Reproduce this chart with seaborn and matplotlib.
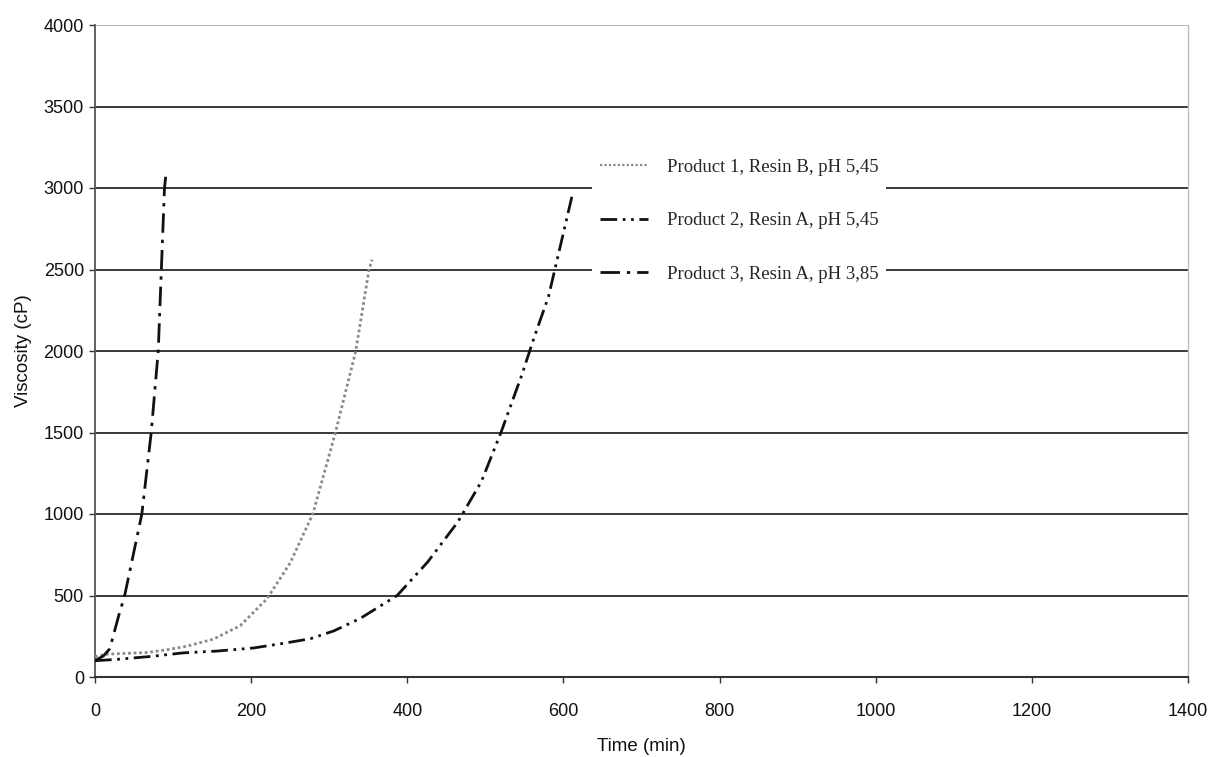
import numpy as np
import pandas as pd
import matplotlib
matplotlib.use("Agg")
import matplotlib.pyplot as plt
import seaborn as sns

# ---- data ----
labels = ["Product 1, Resin B, pH 5,45",
          "Product 2, Resin A, pH 5,45",
          "Product 3, Resin A, pH 3,85"]

t1 = [0, 15, 40, 66, 92, 118, 152, 186, 220, 250, 279, 308, 334, 351, 355]
v1 = [125, 140, 145, 150, 167, 189, 233, 315, 478, 700, 1000, 1500, 2000, 2500, 2560]

t2 = [0, 28, 71, 113, 156, 203, 242, 276, 306, 340, 387, 426, 465, 495, 520, 546, 563, 581, 589, 602, 611]
v2 = [100, 108, 126, 148, 159, 178, 207, 235, 283, 360, 500, 705, 953, 1200, 1500, 1844, 2090, 2336, 2500, 2766, 2950]

t3 = [0, 11, 19, 30, 38, 60, 72, 81, 85, 89, 91]
v3 = [100, 130, 174, 370, 500, 1000, 1500, 2000, 2500, 3000, 3090]

x_ticks = [0, 200, 400, 600, 800, 1000, 1200, 1400]
y_ticks = [0, 500, 1000, 1500, 2000, 2500, 3000, 3500, 4000]

df = pd.concat([
    pd.DataFrame({"Time (min)": t1, "Viscosity (cP)": v1, "series": labels[0]}),
    pd.DataFrame({"Time (min)": t2, "Viscosity (cP)": v2, "series": labels[1]}),
    pd.DataFrame({"Time (min)": t3, "Viscosity (cP)": v3, "series": labels[2]}),
], ignore_index=True)

sns.set_style("white")
plt.rcParams["font.family"] = ["Liberation Sans", "DejaVu Sans"]

fig = plt.figure(figsize=(12.13, 7.57), dpi=100)
ax = fig.add_axes([95 / 1213, 1 - 677 / 757, (1188 - 95) / 1213, (677 - 25) / 757])

palette = {labels[0]: "#8a8a8a", labels[1]: "#111111", labels[2]: "#111111"}
dashes = {labels[0]: (1, 1), labels[1]: (6, 2, 1, 2, 1, 2), labels[2]: (7, 2.5, 1.2, 2.5)}

sns.lineplot(data=df, x="Time (min)", y="Viscosity (cP)", hue="series", style="series",
             palette=palette, dashes=dashes, estimator=None, sort=False, ax=ax,
             linewidth=2.0, zorder=3)

for line in ax.get_lines():
    if line.get_label() == labels[0]:
        line.set_linewidth(1.6)

ax.set_xlim(0, 1400)
ax.set_ylim(0, 4000)
ax.set_xticks(x_ticks)
ax.set_yticks(y_ticks)

for y in y_ticks[1:]:
    ax.axhline(y, color="#b0b0b0" if y == 4000 else "#2a2a2a", linewidth=1.3, zorder=1)

ax.spines["top"].set_visible(False)
ax.spines["right"].set_color("#bdbdbd")
ax.spines["right"].set_linewidth(1.0)
ax.spines["left"].set_color("#555555")
ax.spines["left"].set_linewidth(1.3)
ax.spines["bottom"].set_color("#333333")
ax.spines["bottom"].set_linewidth(1.5)

ax.tick_params(axis="both", which="both", direction="out", length=4, width=1.0,
               colors="#333333", labelsize=13, labelcolor="#111111")
ax.tick_params(axis="x", pad=15, bottom=True)
ax.tick_params(axis="y", pad=4, left=True)

ax.set_xlabel("Time (min)", fontsize=13.5, labelpad=13, color="#111111")
ax.set_ylabel("Viscosity (cP)", fontsize=13.5, labelpad=8, color="#111111")

handles, lbls = ax.get_legend_handles_labels()
leg = ax.legend(handles, lbls, loc="upper left",
                bbox_to_anchor=(592 / 1213, 1 - 151 / 757), bbox_transform=fig.transFigure,
                frameon=True, facecolor="white", edgecolor="none", framealpha=1.0,
                fancybox=False, borderpad=0.4, borderaxespad=0,
                handlelength=2.6, handletextpad=1.0, labelspacing=1.95,
                prop={"family": "Liberation Serif", "size": 13.5})
leg.set_title(None)
leg.set_zorder(5)

fig.savefig("out.png", dpi=100, facecolor="white")
